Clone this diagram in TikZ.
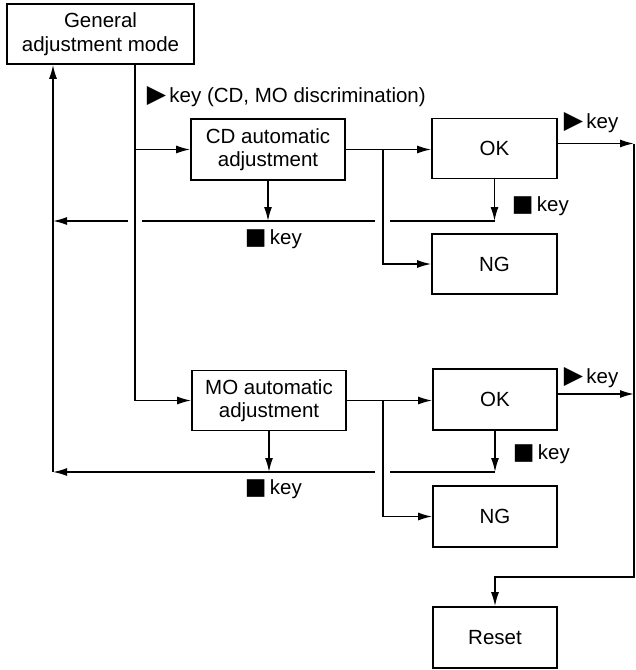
\documentclass[tikz,border=0pt]{standalone}
\usepackage{fontspec}
\setmainfont{Liberation Sans}
\newfontfamily\symfont{DejaVu Sans}
\usetikzlibrary{arrows.meta}
\newcommand{\playkey}{{\symfont\fontsize{25}{25}\selectfont ▶}}
\newcommand{\stopkey}{{\symfont\fontsize{23}{23}\selectfont ■}}
\begin{document}
\begin{tikzpicture}[x=1pt,y=-1pt,
  line width=1.6pt,
  txt/.style={font=\fontsize{20.5}{23.5}\selectfont},
  box/.style={draw,txt,rectangle,inner sep=0pt,align=center},
  arr/.style={-{Latex[length=14pt,width=8pt]}},
  lbl/.style={txt,anchor=west,inner sep=0pt}]
\useasboundingbox (0,0) rectangle (636,670);

% boxes
\node[box,minimum width=187pt,minimum height=60pt] (gen) at (100.5,34) {General\\adjustment mode};
\node[box,minimum width=154pt,minimum height=61pt] (cd) at (268,149.5) {CD automatic\\adjustment};
\node[box,minimum width=125pt,minimum height=60pt] (ok1) at (494.5,148.5) {OK};
\node[box,minimum width=125pt,minimum height=60pt] (ng1) at (494.5,264) {NG};
\node[box,minimum width=154pt,minimum height=60pt] (mo) at (269,400.5) {MO automatic\\adjustment};
\node[box,minimum width=124pt,minimum height=61pt] (ok2) at (495,399.5) {OK};
\node[box,minimum width=124pt,minimum height=61pt] (ng2) at (495,516.5) {NG};
\node[box,minimum width=124pt,minimum height=61pt] (reset) at (495,637.5) {Reset};

% junction coordinates
\coordinate (mx) at (135,0);   % main trunk
\coordinate (lx) at (53,0);    % return line
\coordinate (bx) at (383,0);   % OK/NG branch
\coordinate (rx) at (634,0);   % right collector
\coordinate (r1) at (0,221);   % CD stop-key return
\coordinate (r2) at (0,472);   % MO stop-key return
\coordinate (rr) at (0,577);   % to reset

% trunk from general mode
\draw[arr] (gen.south -| mx) |- (mo.west);
\draw[arr] (cd.west -| mx) -- (cd.west);
\node[lbl] (disc) at (146,97) {\playkey\,key (CD, MO discrimination)};

% CD row
\draw[arr] (cd.east) -- (ok1.west |- cd.east);
\draw[arr] (cd.east -| bx) |- (ng1.west);
\draw[arr] (ok1.south) -- (ok1.south |- r1);
\draw (ok1.south |- r1) -- ([xshift=7pt]bx |- r1);
\draw ([xshift=-8pt]bx |- r1) -- ([xshift=7pt]mx |- r1);
\draw[arr] ([xshift=-7pt]mx |- r1) -- (lx |- r1);
\draw[arr] (cd.south) -- (cd.south |- r1);
\node[lbl] (sk1) at (244,239) {\stopkey\,key};
\node[lbl] (sk2) at (511,206) {\stopkey\,key};

% MO row
\draw[arr] (mo.east) -- (ok2.west |- mo.east);
\draw[arr] (mo.east -| bx) |- (ng2.west);
\draw[arr] (ok2.south) -- (ok2.south |- r2);
\draw (ok2.south |- r2) -- ([xshift=7pt]bx |- r2);
\draw[arr] ([xshift=-8pt]bx |- r2) -- (lx |- r2);
\draw[arr] (mo.south) -- (mo.south |- r2);
\node[lbl] (sk3) at (244,489) {\stopkey\,key};
\node[lbl] (sk4) at (512,454) {\stopkey\,key};

% return to general mode
\draw[arr] (lx |- r2) -- (gen.south -| lx);

% play-key exits to reset
\coordinate (e1) at ([yshift=5pt]ok1.east);
\coordinate (e2) at ([yshift=5.5pt]ok2.east);
\draw[arr] (e1) -- (rx |- e1);
\draw[arr] (e2) -- (rx |- e2);
\draw[arr] (rx |- e1) -- (rx |- rr) -- (reset.north |- rr) -- (reset.north);
\node[lbl] (pk1) at (563,123) {\playkey\,key};
\node[lbl] (pk2) at (563,378) {\playkey\,key};
\end{tikzpicture}
\end{document}
